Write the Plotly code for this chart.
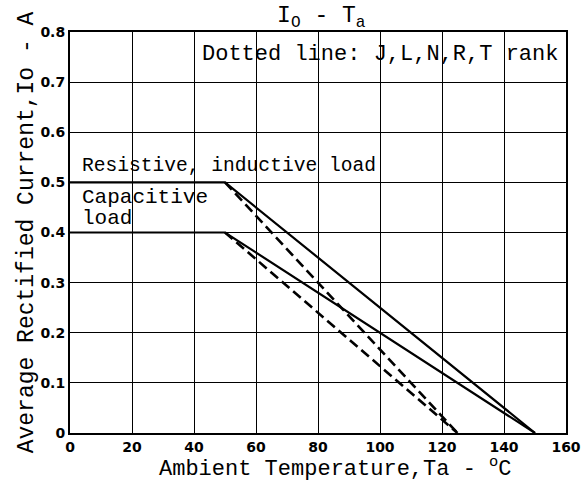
import plotly.graph_objects as go

# Data
res_solid_x = [0, 50, 150]
res_solid_y = [0.5, 0.5, 0.0]
cap_solid_x = [0, 50, 150]
cap_solid_y = [0.4, 0.4, 0.0]
res_dash_x = [50, 125]
res_dash_y = [0.5, 0.0]
cap_dash_x = [50, 125]
cap_dash_y = [0.4, 0.0]

x_ticks = [0, 20, 40, 60, 80, 100, 120, 140, 160]
y_ticks = [0, 0.1, 0.2, 0.3, 0.4, 0.5, 0.6, 0.7, 0.8]
y_tick_text = ["0", "0.1", "0.2", "0.3", "0.4", "0.5", "0.6", "0.7", "0.8"]

mono = "Liberation Mono, Courier New, monospace"

fig = go.Figure()
for xs, ys, dash, w in [
    (res_solid_x, res_solid_y, "solid", 2.2),
    (cap_solid_x, cap_solid_y, "solid", 2.2),
    (res_dash_x, res_dash_y, "10px,5px", 2.6),
    (cap_dash_x, cap_dash_y, "10px,5px", 2.6),
]:
    fig.add_trace(go.Scatter(x=xs, y=ys, mode="lines",
                             line=dict(color="black", width=w, dash=dash),
                             showlegend=False, hoverinfo="skip"))

fig.update_layout(
    width=581, height=490,
    margin=dict(l=70, r=15, t=32, b=57),
    paper_bgcolor="white", plot_bgcolor="white",
    title=dict(text="I<sub>O</sub> - T<sub>a</sub>", x=0.553, xanchor="center",
               y=0.972, yanchor="middle",
               font=dict(family=mono, size=23, color="black")),
    xaxis=dict(range=[0, 160], tickvals=x_ticks, showgrid=True, gridcolor="black",
               gridwidth=1.3, zeroline=False, showline=True, linecolor="black",
               linewidth=2, mirror=True, ticks="", ticklen=0, automargin=False,
               tickfont=dict(family="DejaVu Sans", size=14, color="black", weight="bold")),
    yaxis=dict(range=[0, 0.8], tickvals=y_ticks, ticktext=y_tick_text, showgrid=True,
               gridcolor="black", gridwidth=1.3, zeroline=False, showline=True,
               linecolor="black", linewidth=2, mirror=True, ticks="", automargin=False,
               tickfont=dict(family="DejaVu Sans", size=14, color="black", weight="bold"),
               title=dict(text="Average Rectified Current,Io - A",
                          font=dict(family=mono, size=23, color="black"), standoff=0)),
)

# x-axis title, placed slightly right of centre as in the reference
fig.add_annotation(x=0.535, y=-0.085, xref="paper", yref="paper",
                   text="Ambient Temperature,Ta - <sup>o</sup>C", showarrow=False,
                   xanchor="center", yanchor="middle",
                   font=dict(family=mono, size=22, color="black"))

fig.add_annotation(x=3.3, y=0.532, xref="x", yref="y", text="Resistive, inductive load",
                   showarrow=False, xanchor="left", yanchor="middle",
                   font=dict(family=mono, size=19.6, color="black"))
fig.add_annotation(x=3.3, y=0.469, xref="x", yref="y", text="Capacitive",
                   showarrow=False, xanchor="left", yanchor="middle",
                   font=dict(family=mono, size=21, color="black"))
fig.add_annotation(x=3.3, y=0.427, xref="x", yref="y", text="load",
                   showarrow=False, xanchor="left", yanchor="middle",
                   font=dict(family=mono, size=21, color="black"))
fig.add_annotation(x=158, y=0.755, xref="x", yref="y", text="Dotted line: J,L,N,R,T rank",
                   showarrow=False, xanchor="right", yanchor="middle",
                   font=dict(family=mono, size=22, color="black"))

fig.write_html("out.html", config={"displayModeBar": False},
               post_script="document.body.style.margin='0';document.body.style.padding='0';")
